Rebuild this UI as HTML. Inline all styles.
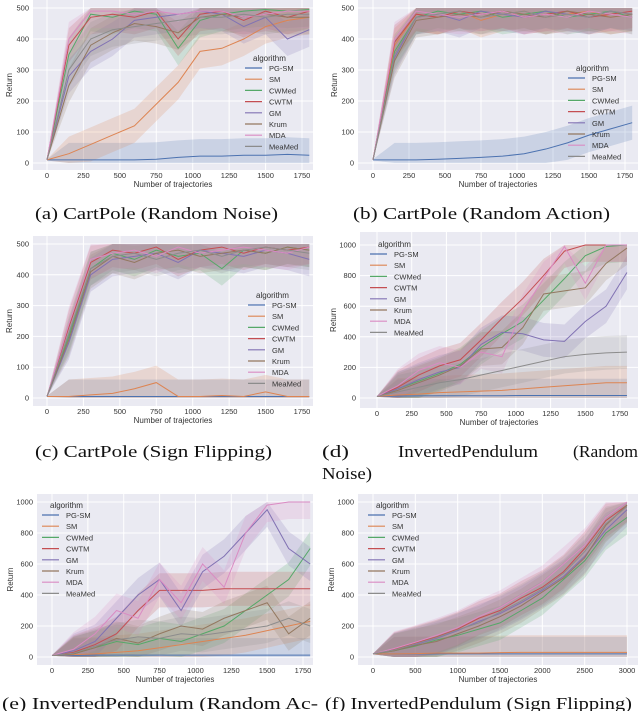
<!DOCTYPE html>
<html><head><meta charset="utf-8"><style>
body{margin:0;background:#fff;width:640px;height:711px;overflow:hidden}
svg{display:block;font-family:"Liberation Sans",sans-serif}
.cap{font-family:"Liberation Serif",serif;font-size:17px;fill:#111}
</style></head><body>
<svg id="fig" width="640" height="711" viewBox="0 0 640 711"></svg>
<script>
const seriesNames=["PG-SM","SM","CWMed","CWTM","GM","Krum","MDA","MeaMed"];
const colors=["#4c72b0","#dd8452","#55a868","#c44e52","#8172b3","#937860","#da8bc3","#8c8c8c"];
// panel a
const aX=[0,150,300,450,600,750,900,1050,1200,1350,1500,1650,1800];
const aPGSM=[10,10,10,10,10,12,18,22,22,25,25,28,25];
const aSM=[10,30,60,90,120,190,260,360,370,400,440,460,470];
const aCWMed=[10,350,480,470,490,480,370,460,480,490,495,490,495];
const aCWTM=[10,380,470,480,470,490,400,480,490,460,490,470,490];
const aGM=[10,280,360,400,460,470,480,490,480,440,470,400,430];
const aKrum=[10,250,380,420,450,440,420,470,480,470,480,470,470];
const aMDA=[10,400,490,490,480,490,480,490,490,470,480,490,490];
const aMeaMed=[10,300,400,430,440,450,460,470,470,480,470,480,480];
// panel b
const bX=[0,150,300,450,600,750,900,1050,1200,1350,1500,1650,1800];
const bPGSM=[10,10,10,12,15,18,22,30,45,65,90,110,130];
const bSM=[10,380,480,470,490,460,480,490,470,480,490,470,480];
const bCWMed=[10,360,470,490,480,490,470,480,490,470,480,490,470];
const bCWTM=[10,390,480,470,490,480,490,470,480,490,470,480,490];
const bGM=[10,340,470,480,460,490,480,470,490,480,470,490,480];
const bKrum=[10,330,460,470,480,470,490,480,470,490,480,470,480];
const bMDA=[10,400,490,480,470,480,490,470,480,470,490,480,470];
const bMeaMed=[10,350,470,480,490,470,480,490,470,480,470,490,480];
// panel c
const cX=[0,150,300,450,600,750,900,1050,1200,1350,1500,1650,1800];
const cPGSM=[5,5,5,5,5,5,5,5,5,5,5,5,5];
const cSM=[5,5,10,15,30,50,5,5,8,5,20,5,5];
const cCWMed=[5,200,420,470,450,480,460,470,420,480,470,490,480];
const cCWTM=[5,230,440,480,470,490,450,480,490,470,490,480,490];
const cGM=[5,180,400,450,460,470,440,480,470,460,480,470,450];
const cKrum=[5,190,410,460,440,470,480,460,470,480,470,490,480];
const cMDA=[5,240,450,470,480,460,490,470,480,490,480,470,490];
const cMeaMed=[5,210,420,460,470,450,470,480,460,480,490,480,470];
// panel d
const dX=[0,150,300,450,600,750,900,1050,1200,1350,1500,1650,1800];
const dPGSM=[10,12,14,15,15,15,15,16,16,16,16,16,16];
const dSM=[10,20,25,35,40,45,50,60,70,80,90,100,100];
const dCWMed=[10,60,110,160,220,330,420,500,640,780,930,990,1000];
const dCWTM=[10,70,150,210,250,380,520,650,800,960,1000,1000,1000];
const dGM=[10,60,120,170,200,350,430,420,380,370,500,600,820];
const dKrum=[10,50,100,150,210,320,330,460,680,700,720,880,980];
const dMDA=[10,80,180,230,200,300,270,570,780,990,750,1000,1000];
const dMeaMed=[10,40,70,100,120,150,180,210,240,270,285,295,300];
// panel e
const eX=[0,150,300,450,600,750,900,1050,1200,1350,1500,1650,1800];
const ePGSM=[10,10,12,12,12,12,12,12,12,12,12,12,12];
const eSM=[10,15,20,30,40,60,80,100,120,140,170,200,230];
const eCWMed=[10,20,60,100,80,120,100,150,200,300,400,500,700];
const eCWTM=[10,30,80,150,300,430,430,430,440,440,440,440,440];
const eGM=[10,40,100,250,400,500,300,550,650,800,950,700,600];
const eKrum=[10,20,60,120,90,150,200,180,250,300,350,150,250];
const eMDA=[10,50,150,300,250,500,350,600,450,800,980,1000,1000];
const eMeaMed=[10,25,70,110,130,120,150,140,160,180,200,250,200];
// panel f
const fX=[0,250,500,750,1000,1250,1500,1750,2000,2250,2500,2750,3000];
const fPGSM=[20,20,20,20,20,20,20,20,20,20,20,20,20];
const fSM=[20,20,22,25,25,25,28,30,30,30,30,30,30];
const fCWMed=[20,40,70,110,140,180,220,300,380,500,620,800,900];
const fCWTM=[20,50,90,130,180,250,300,380,450,550,700,880,980];
const fGM=[20,45,80,120,170,230,280,350,430,520,650,820,950];
const fKrum=[20,40,75,100,150,200,260,330,420,510,640,850,980];
const fMDA=[20,55,95,140,190,260,320,400,480,600,720,900,1000];
const fMeaMed=[20,45,85,125,175,220,290,360,440,540,680,860,970];

const panels=[
 {id:"a",X:aX,S:[aPGSM,aSM,aCWMed,aCWTM,aGM,aKrum,aMDA,aMeaMed],bg:[33,0,313,170],xm:[0,47,1750,302],ym:[0,163,500,8],xt:[0,250,500,750,1000,1250,1500,1750],yt:[0,100,200,300,400,500],ymax:500,leg:[245,55]},
 {id:"b",X:bX,S:[bPGSM,bSM,bCWMed,bCWTM,bGM,bKrum,bMDA,bMeaMed],bg:[358,0,638,170],xm:[0,373,1750,625],ym:[0,163,500,8],xt:[0,250,500,750,1000,1250,1500,1750],yt:[0,100,200,300,400,500],ymax:500,leg:[568,65]},
 {id:"c",X:cX,S:[cPGSM,cSM,cCWMed,cCWTM,cGM,cKrum,cMDA,cMeaMed],bg:[33,236,313,406],xm:[0,47,1750,302],ym:[0,398,500,244],xt:[0,250,500,750,1000,1250,1500,1750],yt:[0,100,200,300,400,500],ymax:500,leg:[248,292]},
 {id:"d",X:dX,S:[dPGSM,dSM,dCWMed,dCWTM,dGM,dKrum,dMDA,dMeaMed],bg:[360,232,638,408],xm:[0,377,1750,620],ym:[0,398,1000,245],xt:[0,250,500,750,1000,1250,1500,1750],yt:[0,200,400,600,800,1000],ymax:1000,leg:[370,241]},
 {id:"e",X:eX,S:[ePGSM,eSM,eCWMed,eCWTM,eGM,eKrum,eMDA,eMeaMed],bg:[37,494,313,665],xm:[0,52,1750,303],ym:[0,657,1000,502],xt:[0,250,500,750,1000,1250,1500,1750],yt:[0,200,400,600,800,1000],ymax:1000,leg:[42,502]},
 {id:"f",X:fX,S:[fPGSM,fSM,fCWMed,fCWTM,fGM,fKrum,fMDA,fMeaMed],bg:[358,494,638,665],xm:[0,373,3000,627],ym:[0,657,1000,502],xt:[0,500,1000,1500,2000,2500,3000],yt:[0,200,400,600,800,1000],ymax:1000,leg:[368,502]}
];
const NS="http://www.w3.org/2000/svg";
const svg=document.getElementById("fig");
function mk(tag,attrs,parent){const e=document.createElementNS(NS,tag);for(const k in attrs)e.setAttribute(k,attrs[k]);(parent||svg).appendChild(e);return e;}
panels.forEach(p=>{
 const g=mk("g",{});
 
 
 const sx=v=>p.xm[1]+(v-p.xm[0])*(p.xm[3]-p.xm[1])/(p.xm[2]-p.xm[0]);
 const sy=v=>p.ym[1]+(v-p.ym[0])*(p.ym[3]-p.ym[1])/(p.ym[2]-p.ym[0]);
 const bg=mk("rect",{x:p.bg[0],y:p.bg[1],width:p.bg[2]-p.bg[0],height:p.bg[3]-p.bg[1],fill:"#eaeaf2"},g);
 
 
 p.xt.forEach(t=>{mk("line",{x1:sx(t),x2:sx(t),y1:p.bg[1],y2:p.bg[3],stroke:"#fff","stroke-width":1},g);
  const tx=mk("text",{x:sx(t),y:p.bg[3]+8,"font-size":7.5,fill:"#333","text-anchor":"middle"},g);tx.textContent=t;
  
  });
 p.yt.forEach(t=>{mk("line",{x1:p.bg[0],x2:p.bg[2],y1:sy(t),y2:sy(t),stroke:"#fff","stroke-width":1},g);
  const tx=mk("text",{x:p.bg[0]-4,y:sy(t)+2.5,"font-size":7.5,fill:"#333","text-anchor":"end"},g);tx.textContent=t;
  
  });
 const xl=mk("text",{x:(p.bg[0]+p.bg[2])/2,y:p.bg[3]+17,"font-size":8,fill:"#333","text-anchor":"middle"},g);xl.textContent="Number of trajectories";
 
 
 const yx=p.bg[0]-(p.ymax>500?24:21),yy=(p.bg[1]+p.bg[3])/2;
 const yl=mk("text",{x:yx,y:yy,"font-size":8,fill:"#333","text-anchor":"middle",transform:`rotate(-90 ${yx} ${yy})`},g);yl.textContent="Return";
 
 
 p.S.forEach((vals,i)=>{
  const spread=p.ymax*0.11;
  let up=[],dn=[];
  vals.forEach((v,j)=>{const s=j==0?2:spread;up.push([sx(p.X[j]),sy(Math.min(v+s,p.ymax))]);dn.push([sx(p.X[j]),sy(Math.max(v-s,0))]);});
  const band=mk("path",{d:"M"+up.map(q=>q.join(",")).join("L")+"L"+dn.reverse().map(q=>q.join(",")).join("L")+"Z",fill:colors[i],"fill-opacity":0.2},g);
  
  
 });
 p.S.forEach((vals,i)=>{
  const ln=mk("polyline",{points:vals.map((v,j)=>sx(p.X[j])+","+sy(v)).join(" "),fill:"none",stroke:colors[i],"stroke-width":1},g);
  
  
 });
 const lg=mk("g",{},g);
 
 
 const [lx,ly]=p.leg;
 const lt=mk("text",{x:lx+8,y:ly+6,"font-size":8,fill:"#333"},lg);lt.textContent="algorithm";
 seriesNames.forEach((n,i)=>{const y=ly+16+i*11.2;
  mk("line",{x1:lx,x2:lx+17,y1:y-3,y2:y-3,stroke:colors[i],"stroke-width":1.2},lg);
  const t=mk("text",{x:lx+24,y:y,"font-size":7.5,fill:"#333"},lg);t.textContent=n;
  
  });
});
const caps=[["(a) CartPole (Random Noise)",35,219,243],["(b) CartPole (Random Action)",353,219,257],["(c) CartPole (Sign Flipping)",35,457,237],["Noise)",322,479,50],["(e) InvertedPendulum (Random Ac-",2,709,316],["(f) InvertedPendulum (Sign Flipping)",325,709,307]];
caps.forEach(c=>{const t=mk("text",{x:c[1],y:c[2],class:"cap",textLength:c[3],lengthAdjust:"spacingAndGlyphs"});t.textContent=c[0];
 
 });
const dparts=[["(d)",322,27],["InvertedPendulum",398,140],["(Random",573,65]];
dparts.forEach(c=>{const t=mk("text",{x:c[1],y:457,class:"cap",textLength:c[2],lengthAdjust:"spacingAndGlyphs"});t.textContent=c[0];
 
 });
</script>
</body></html>
